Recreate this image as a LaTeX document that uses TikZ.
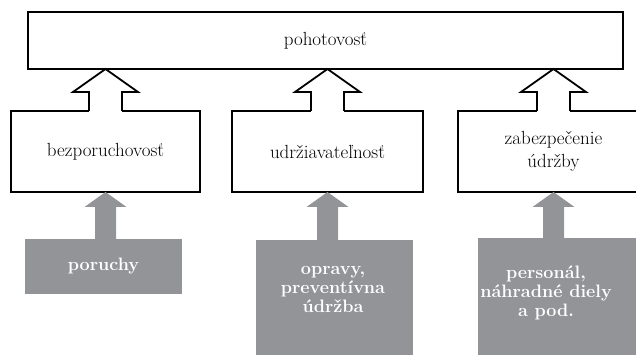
\documentclass[tikz,border=0pt]{standalone}
\usepackage{fontspec}
\definecolor{boxgray}{RGB}{147,148,152}
\begin{document}
\begin{tikzpicture}[x=1pt,y=-1pt,
    box/.style={draw,line width=1.8pt,fill=white,inner sep=0pt,outer sep=0pt,
      align=center,font=\fontsize{19}{23}\selectfont},
    graybox/.style={fill=boxgray,inner sep=0pt,outer sep=0pt},
    graytext/.style={text=white,align=center,font=\fontsize{18}{19}\selectfont\bfseries},
    hollow/.style={draw,line width=1.8pt,line join=miter},
    grayarrow/.style={fill=boxgray}]
  \useasboundingbox (0,0) rectangle (636,355);
  \clip (0,0) rectangle (636,355);
  % top level
  \node[box,minimum width=595pt,minimum height=57pt] (avail) at (325.5,40.5) {pohotovosť};
  % middle level
  \node[box,minimum width=189pt,minimum height=81pt] (rel) at (105.5,151.5) {bezporuchovosť};
  \node[box,minimum width=191pt,minimum height=81pt] (maint) at (327.5,151.5) {udržiavateľnosť};
  \node[box,minimum width=191pt,minimum height=81pt] (supp) at (553.5,151.5) {zabezpečenie\\údržby};
  % bottom level
  \node[graybox,graytext,minimum width=157pt,minimum height=55pt] (fail) at (103.5,266.5) {poruchy};
  \node[graybox,minimum width=157pt,minimum height=135pt] (repair) at (334.5,307.5) {};
  \node[graytext] (repairtxt) at (333,289) {opravy,\\preventívna\\údržba};
  \node[graybox,minimum width=192pt,minimum height=137pt] (staff) at (574,306.5) {};
  \node[graytext] (stafftxt) at (546,293) {personál,\\náhradné diely\\a pod.};
  % hollow arrows up to the top box
  \fill[white] ([xshift=-16.5pt]rel.north) ++(0,1) rectangle ++(33,-3);
  \draw[hollow] ([xshift=-16.5pt]rel.north) -- ++(0,-19) -- ++(-16,0) -- (rel.north |- avail.south)
    -- ++(32.5,23) -- ++(-16,0) -- ++(0,19);
  \fill[white] ([xshift=-16.5pt]maint.north) ++(0,1) rectangle ++(33,-3);
  \draw[hollow] ([xshift=-16.5pt]maint.north) -- ++(0,-19) -- ++(-16,0) -- (maint.north |- avail.south)
    -- ++(32.5,23) -- ++(-16,0) -- ++(0,19);
  \fill[white] ([xshift=-16.5pt]supp.north) ++(0,1) rectangle ++(33,-3);
  \draw[hollow] ([xshift=-16.5pt]supp.north) -- ++(0,-19) -- ++(-16,0) -- (supp.north |- avail.south)
    -- ++(32.5,23) -- ++(-16,0) -- ++(0,19);
  % gray arrows up to the middle boxes
  \fill[grayarrow] (rel.south) -- ++(21,15) -- ++(-10.5,0) -- ++(0,33) -- ++(-21,0)
    -- ++(0,-33) -- ++(-10.5,0) -- cycle;
  \fill[grayarrow] (maint.south) -- ++(21,15) -- ++(-10.5,0) -- ++(0,33) -- ++(-21,0)
    -- ++(0,-33) -- ++(-10.5,0) -- cycle;
  \fill[grayarrow] (supp.south) -- ++(21,15) -- ++(-10.5,0) -- ++(0,33) -- ++(-21,0)
    -- ++(0,-33) -- ++(-10.5,0) -- cycle;
\end{tikzpicture}
\end{document}
